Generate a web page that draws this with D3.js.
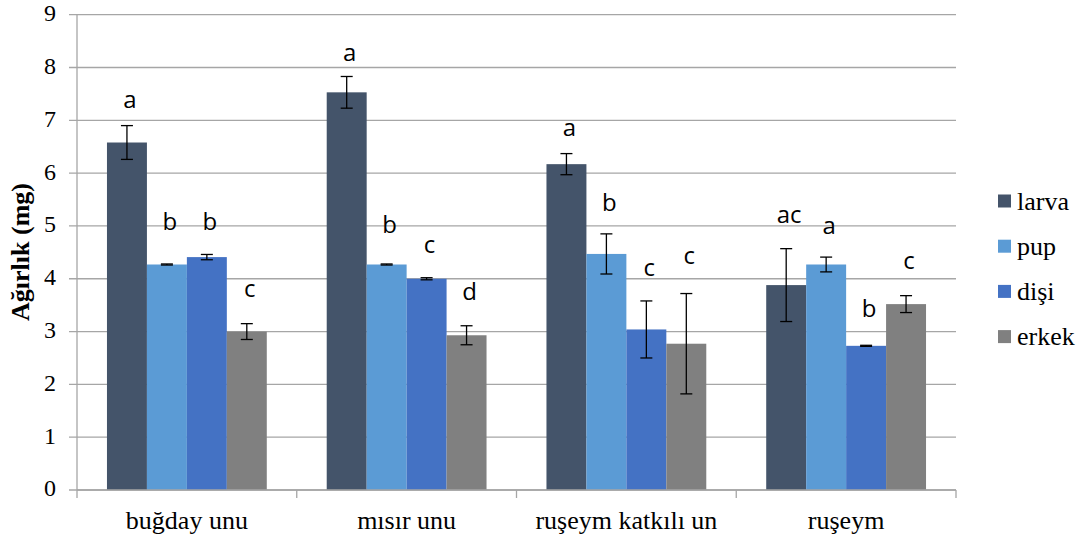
<!DOCTYPE html>
<html>
<head>
<meta charset="utf-8">
<script src="https://cdn.jsdelivr.net/npm/d3@7"></script>
<style>
  body { margin: 0; background: #fff; }
  svg { display: block; }
  .serif { font-family: "Liberation Serif", "Times New Roman", Times, "DejaVu Serif", serif; }
  .sans { font-family: "Open Sans", "Liberation Sans", sans-serif; }
</style>
</head>
<body>
<div id="chart"></div>
<script>
const categories = ["buğday unu", "mısır unu", "ruşeym katkılı un", "ruşeym"];
const series = ["larva", "pup", "dişi", "erkek"];
const colors = ["#44546A", "#5B9BD5", "#4472C4", "#808080"];

// mean values per series, one entry per category
const larva = [6.58, 7.53, 6.17, 3.88];
const pup = [4.27, 4.27, 4.47, 4.27];
const disi = [4.41, 4.00, 3.04, 2.73];
const erkek = [3.00, 2.93, 2.77, 3.52];

// error (+/-)
const larvaErr = [0.32, 0.30, 0.20, 0.69];
const pupErr = [0.01, 0.01, 0.38, 0.14];
const disiErr = [0.05, 0.02, 0.54, 0.01];
const erkekErr = [0.15, 0.18, 0.95, 0.16];

// significance letters and their height (in mg units)
const larvaLetters = ["a", "a", "a", "ac"];
const pupLetters = ["b", "b", "b", "a"];
const disiLetters = ["b", "c", "c", "b"];
const erkekLetters = ["c", "d", "c", "c"];
const larvaLetterY = [7.23, 8.12, 6.71, 5.06];
const pupLetterY = [4.92, 4.87, 5.29, 4.85];
const disiLetterY = [4.92, 4.49, 4.05, 3.28];
const erkekLetterY = [3.66, 3.60, 4.27, 4.18];

const yTicks = [0, 1, 2, 3, 4, 5, 6, 7, 8, 9];

const values = [larva, pup, disi, erkek];
const errors = [larvaErr, pupErr, disiErr, erkekErr];
const letters = [larvaLetters, pupLetters, disiLetters, erkekLetters];
const letterY = [larvaLetterY, pupLetterY, disiLetterY, erkekLetterY];

const W = 1081, H = 539;
const plotLeft = 77, plotRight = 956, plotTop = 14.7, plotBottom = 490;

const svg = d3.select("#chart").append("svg")
  .attr("width", W)
  .attr("height", H);

const x0 = d3.scaleBand().domain(categories).range([plotLeft, plotRight]).paddingInner(0).paddingOuter(0);
const x1 = d3.scaleBand().domain(series).range([0, x0.bandwidth()]).paddingInner(0).paddingOuter(0.75);
const y = d3.scaleLinear().domain([0, 9]).range([plotBottom, plotTop]);

// gridlines
svg.append("g")
  .selectAll("line")
  .data(yTicks)
  .enter().append("line")
  .attr("x1", plotLeft - 8)
  .attr("x2", plotRight)
  .attr("y1", d => y(d))
  .attr("y2", d => y(d))
  .attr("stroke", "#A6A6A6")
  .attr("stroke-width", 1.3);

// y axis line
svg.append("line")
  .attr("x1", plotLeft).attr("x2", plotLeft)
  .attr("y1", plotTop).attr("y2", plotBottom)
  .attr("stroke", "#A6A6A6")
  .attr("stroke-width", 1.3);

// y tick labels
svg.append("g")
  .selectAll("text")
  .data(yTicks)
  .enter().append("text")
  .attr("class", "serif")
  .attr("x", 56)
  .attr("y", d => y(d))
  .attr("dy", "0.27em")
  .attr("text-anchor", "end")
  .style("font-size", "24px")
  .text(d => d);

// y axis title
svg.append("text")
  .attr("class", "serif")
  .attr("transform", `translate(29,252) rotate(-90)`)
  .attr("text-anchor", "middle")
  .style("font-size", "26px")
  .style("font-weight", "bold")
  .text("Ağırlık (mg)");

// bars
const groups = svg.selectAll(".group")
  .data(categories)
  .enter().append("g")
  .attr("class", "group")
  .attr("transform", d => `translate(${x0(d)},0)`);

series.forEach((s, si) => {
  groups.append("rect")
    .attr("x", x1(s))
    .attr("width", x1.bandwidth())
    .attr("y", (d, ci) => y(values[si][ci]))
    .attr("height", (d, ci) => plotBottom - y(values[si][ci]))
    .attr("fill", colors[si]);
});

// bottom axis line and ticks
svg.append("line")
  .attr("x1", plotLeft).attr("x2", plotRight)
  .attr("y1", plotBottom).attr("y2", plotBottom)
  .attr("stroke", "#A6A6A6")
  .attr("stroke-width", 1.3);

const boundaries = categories.map(c => x0(c)).concat([plotRight]);
svg.append("g")
  .selectAll("line")
  .data(boundaries)
  .enter().append("line")
  .attr("x1", d => d).attr("x2", d => d)
  .attr("y1", plotBottom).attr("y2", plotBottom + 8)
  .attr("stroke", "#A6A6A6")
  .attr("stroke-width", 1.3);

// error bars
series.forEach((s, si) => {
  const cx = x1(s) + x1.bandwidth() / 2;
  const eb = groups.append("g").attr("class", "err");
  eb.append("line")
    .attr("x1", cx).attr("x2", cx)
    .attr("y1", (d, ci) => y(values[si][ci] + errors[si][ci]))
    .attr("y2", (d, ci) => y(values[si][ci] - errors[si][ci]))
    .attr("stroke", "#000").attr("stroke-width", 1.3);
  [1, -1].forEach(sign => {
    eb.append("line")
      .attr("x1", cx - 6).attr("x2", cx + 6)
      .attr("y1", (d, ci) => y(values[si][ci] + sign * errors[si][ci]))
      .attr("y2", (d, ci) => y(values[si][ci] + sign * errors[si][ci]))
      .attr("stroke", "#000").attr("stroke-width", 1.3);
  });
});

// letters
series.forEach((s, si) => {
  const cx = x1(s) + x1.bandwidth() / 2 + 3;
  groups.append("text")
    .attr("class", "sans")
    .attr("x", cx)
    .attr("y", (d, ci) => y(letterY[si][ci]))
    .attr("text-anchor", "middle")
    .style("font-size", "24px")
    .text((d, ci) => letters[si][ci]);
});

// category labels
svg.append("g")
  .selectAll("text")
  .data(categories)
  .enter().append("text")
  .attr("class", "serif")
  .attr("x", d => x0(d) + x0.bandwidth() / 2)
  .attr("y", 529)
  .attr("text-anchor", "middle")
  .style("font-size", "26px")
  .text(d => d);

// legend
const legend = svg.append("g")
  .attr("transform", "translate(998,201)");

legend.selectAll(".legend-item")
  .data(series)
  .enter().append("g")
  .attr("class", "legend-item")
  .attr("transform", (d, i) => `translate(0,${i * 45.2})`)
  .each(function(d, i) {
    d3.select(this).append("rect")
      .attr("x", 0)
      .attr("y", -6.5)
      .attr("width", 13)
      .attr("height", 13)
      .attr("fill", colors[i]);
    d3.select(this).append("text")
      .attr("class", "serif")
      .attr("x", 19)
      .attr("y", 0)
      .attr("dy", "0.33em")
      .style("font-size", "26px")
      .text(d);
  });
</script>
</body>
</html>
